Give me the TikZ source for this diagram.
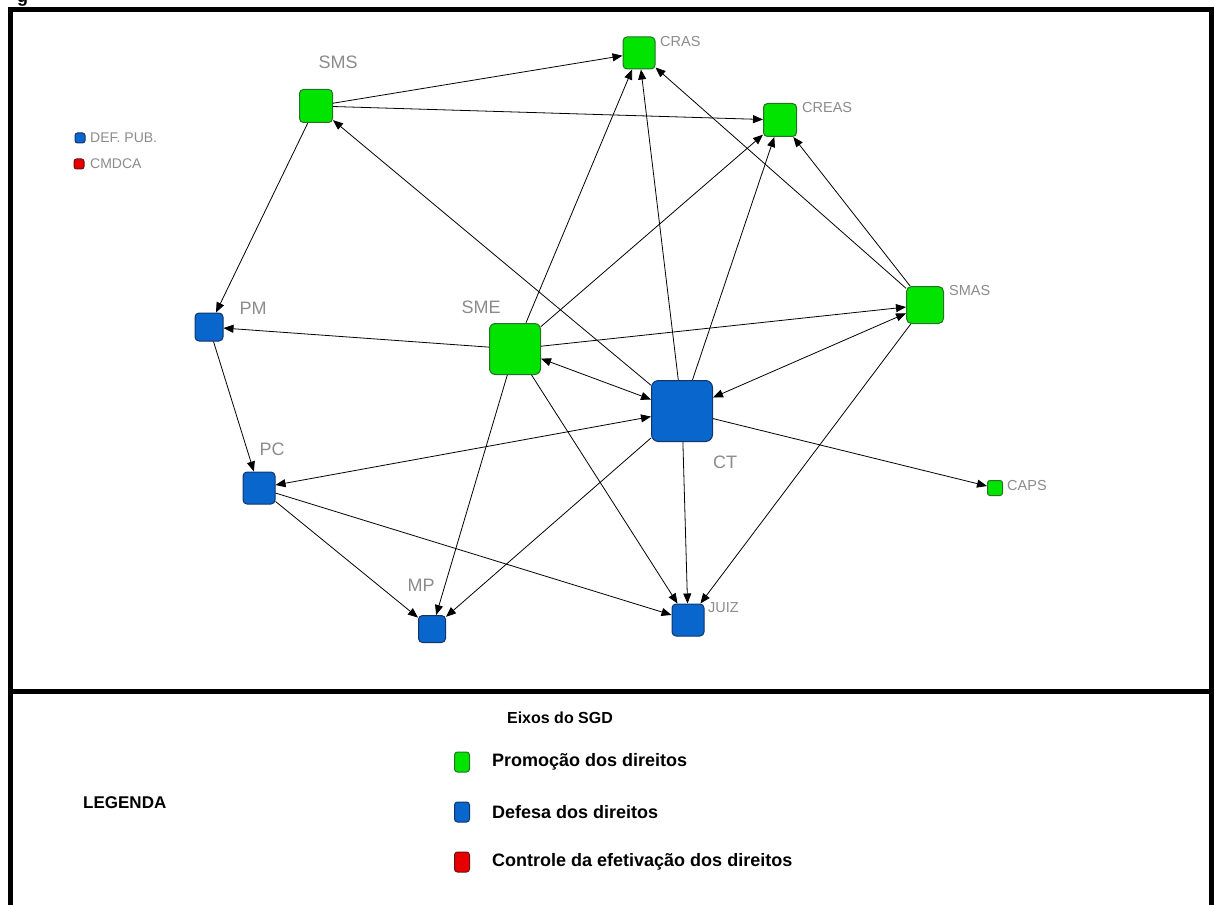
\documentclass[tikz,border=0pt]{standalone}
\usepackage{fontspec}
\setmainfont{Liberation Sans}
\usetikzlibrary{arrows.meta}
\definecolor{promgreen}{RGB}{0,228,0}
\definecolor{promedge}{RGB}{35,115,35}
\definecolor{defblue}{RGB}{8,102,204}
\definecolor{defedge}{RGB}{18,52,105}
\definecolor{ctrlred}{RGB}{232,0,0}
\definecolor{ctrledge}{RGB}{105,18,18}
\definecolor{lblgray}{RGB}{140,140,140}
\begin{document}
\begin{tikzpicture}[x=1pt, y=-1pt, >={Triangle[length=10pt,width=8pt]},
  prom/.style={rectangle, draw=promedge, fill=promgreen, line width=1pt, rounded corners=4pt, inner sep=0pt},
  dfs/.style={rectangle, draw=defedge, fill=defblue, line width=1pt, rounded corners=4pt, inner sep=0pt},
  ctrl/.style={rectangle, draw=ctrledge, fill=ctrlred, line width=1pt, rounded corners=3pt, inner sep=0pt},
  biglbl/.style={text=lblgray, inner sep=0pt, font=\fontsize{18}{18}\selectfont},
  smalllbl/.style={text=lblgray, inner sep=0pt, anchor=west, font=\fontsize{14.5}{14.5}\selectfont},
  keytxt/.style={inner sep=0pt, anchor=west, font=\fontsize{18}{18}\selectfont\bfseries},
  link/.style={line width=0.8pt}]
\useasboundingbox (0,0) rectangle (1214,904);
\fill[white] (0,0) rectangle (1214,904);
\node[inner sep=0pt, anchor=base west, font=\fontsize{18}{18}\selectfont\bfseries] (figg) at (17,3) {g};
\draw[line width=5pt] (10,930) -- (10,10) -- (1211,10) -- (1211,930);
\draw[line width=5pt] (8,691) -- (1214,691);
\node[dfs, minimum size=10pt, rounded corners=2.5pt] (kdef) at (80,138) {};
\node[smalllbl, font=\fontsize{14}{14}\selectfont] (kdeftxt) at (90,138) {DEF. PUB.};
\node[ctrl, minimum size=10pt, rounded corners=2.5pt] (kcmd) at (79,164) {};
\node[smalllbl, font=\fontsize{14}{14}\selectfont] (kcmdtxt) at (90,164) {CMDCA};
\node[prom, minimum size=33pt] (sms) at (316,106) {};
\node[biglbl] (smslbl) at (338,62) {SMS};
\node[prom, minimum size=32pt] (cras) at (639,53) {};
\node[smalllbl] (craslbl) at (660,42) {CRAS};
\node[prom, minimum size=33pt] (creas) at (780,120) {};
\node[smalllbl] (creaslbl) at (802,108) {CREAS};
\node[prom, minimum size=51pt, rounded corners=6pt] (sme) at (515,349) {};
\node[biglbl] (smelbl) at (481,307) {SME};
\node[prom, minimum size=37pt, rounded corners=5pt] (smas) at (925,305) {};
\node[smalllbl] (smaslbl) at (949,291) {SMAS};
\node[prom, minimum size=15pt, rounded corners=2.5pt] (caps) at (995,488) {};
\node[smalllbl] (capslbl) at (1007,486) {CAPS};
\node[dfs, minimum size=61pt, rounded corners=7pt] (ct) at (682,411) {};
\node[biglbl] (ctlbl) at (725,462) {CT};
\node[dfs, minimum size=28pt] (pm) at (209,327) {};
\node[biglbl] (pmlbl) at (253,308) {PM};
\node[dfs, minimum size=32pt] (pc) at (259,488) {};
\node[biglbl] (pclbl) at (272,449) {PC};
\node[dfs, minimum size=27pt] (mp) at (432,629) {};
\node[biglbl] (mplbl) at (421,585) {MP};
\node[dfs, minimum size=32pt] (juiz) at (688,620) {};
\node[smalllbl] (juizlbl) at (708,608) {JUIZ};
\draw[link, ->] (sms) -- (cras);
\draw[link, ->] (sms) -- (creas);
\draw[link, ->] (sms) -- (pm);
\draw[link, ->] (ct) -- (sms);
\draw[link, <->] (sme) -- (ct);
\draw[link, <->] (pc) -- (ct);
\draw[link, <->] (smas) -- (ct);
\draw[link, ->] (sme) -- (pm);
\draw[link, ->] (sme) -- (cras);
\draw[link, ->] (sme) -- (creas);
\draw[link, ->] (sme) -- (smas);
\draw[link, ->] (sme) -- (mp);
\draw[link, ->] (sme) -- (juiz);
\draw[link, ->] (ct) -- (cras);
\draw[link, ->] (ct) -- (creas);
\draw[link, ->] (ct) -- (caps);
\draw[link, ->] (ct) -- (juiz);
\draw[link, ->] (ct) -- (mp);
\draw[link, ->] (smas) -- (cras);
\draw[link, ->] (smas) -- (creas);
\draw[link, ->] (smas) -- (juiz);
\draw[link, ->] (pm) -- (pc);
\draw[link, ->] (pc) -- (mp);
\draw[link, ->] (pc) -- (juiz);
\node[inner sep=0pt, font=\fontsize{16}{16}\selectfont\bfseries] (axes) at (560,718) {Eixos do SGD};
\node[inner sep=0pt, anchor=west, font=\fontsize{17}{17}\selectfont\bfseries] (legend) at (83,803) {LEGENDA};
\node[prom, minimum width=15pt, minimum height=20pt, rounded corners=3pt] (kprom) at (462,762) {};
\node[keytxt] (kpromtxt) at (492,762) {Promoção dos direitos};
\node[dfs, minimum width=15pt, minimum height=20pt, rounded corners=3pt] (kdfs) at (462,812) {};
\node[keytxt] (kdfstxt) at (492,812) {Defesa dos direitos};
\node[ctrl, minimum width=15pt, minimum height=20pt, rounded corners=3pt] (kctrl) at (462,862) {};
\node[keytxt] (kctrltxt) at (492,862) {Controle da efetivação dos direitos};
\end{tikzpicture}
\end{document}
